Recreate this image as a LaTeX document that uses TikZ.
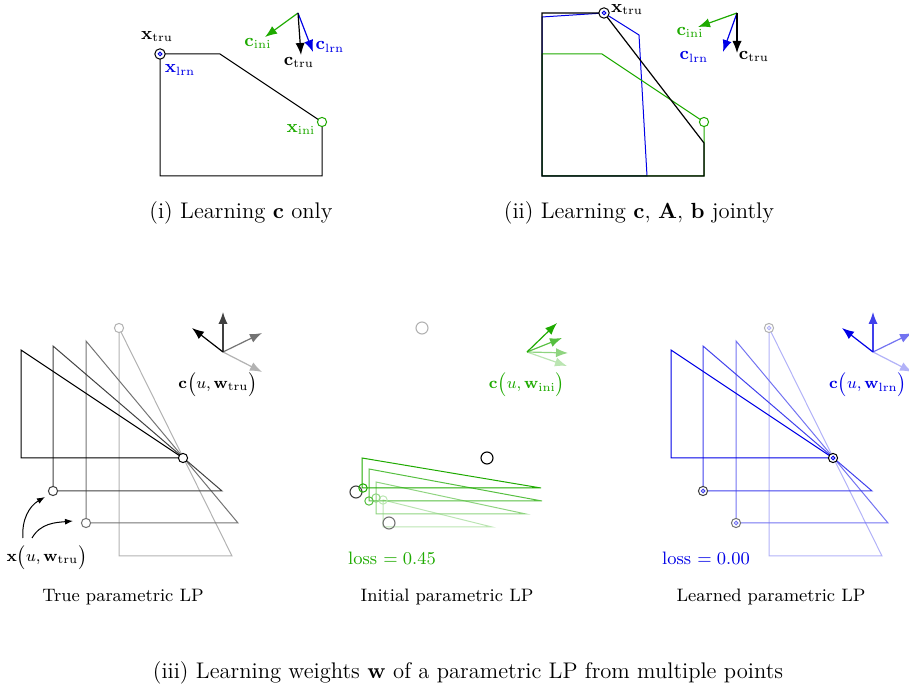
\documentclass[tikz,border=0pt]{standalone}
\usepackage{xcolor}
\usepackage{tikz}
\usetikzlibrary{positioning,arrows.meta,calc}

\definecolor{ini}{RGB}{30,170,0}
\definecolor{lrn}{RGB}{0,0,230}

\tikzset{
  vec/.style={-{Latex[length=6pt,width=4.6pt]}, line width=0.6pt},
  sol/.style={circle, draw, fill=white, inner sep=0pt, minimum size=4.6pt, line width=0.5pt},
  tru/.style={circle, draw, inner sep=0pt, minimum size=6pt, line width=0.55pt},
  dot/.style={circle, draw=lrn, inner sep=0pt, minimum size=1.8pt, line width=0.5pt},
  lbl/.style={font=\small, inner sep=1pt},
  fnl/.style={font=\footnotesize, inner sep=1pt},
  subcap/.style={font=\fontsize{11.3}{13.5}\selectfont},
}

\begin{document}
\begin{tikzpicture}[x=0.5pt, y=-0.5pt, line width=0.5pt]
    \useasboundingbox (0,0) rectangle (909,688);

    % (i) learning c only
    \draw (160,176) -- (160,54) -- (220,54) -- (322,122) -- (322,176) -- cycle;
    \node[sol, minimum size=5.2pt] (xtruA) at (160,54) {};
    \node[dot] (xlrnA) at (160,54) {};
    \node[sol, draw=ini] (xiniA) at (322,122) {};
    \node[lbl] (xtruAl) at (157,37) {$\mathbf{x}_{\mathrm{tru}}$};
    \node[lbl, text=lrn] (xlrnAl) at (180,70) {$\mathbf{x}_{\mathrm{lrn}}$};
    \node[lbl, text=ini] (xiniAl) at (301,130) {$\mathbf{x}_{\mathrm{ini}}$};

    \coordinate (oA) at (298,13);
    \coordinate (ciA) at (265,37);
    \coordinate (clA) at (313,52);
    \coordinate (ctA) at (301,55);
    \draw[vec, ini] (oA) -- (ciA);
    \draw[vec, lrn] (oA) -- (clA);
    \draw[vec] (oA) -- (ctA);
    \node[lbl, text=ini] (ciAl) at (258,44) {$\mathbf{c}_{\mathrm{ini}}$};
    \node[lbl] (ctAl) at (299,63) {$\mathbf{c}_{\mathrm{tru}}$};
    \node[lbl, text=lrn] (clAl) at (330,47) {$\mathbf{c}_{\mathrm{lrn}}$};

    \node[subcap] (capA) at (241,213) {(i) Learning $\mathbf{c}$ only};

    % (ii) learning c, A, b jointly
    \draw[lrn] (542,176) -- (542,17) -- (604,13) -- (639,35) -- (647,176) -- cycle;
    \draw[ini] (542,176) -- (542,54) -- (602,54) -- (704,122) -- (704,176) -- cycle;
    \draw[line width=0.6pt] (542,176) -- (542,13) -- (604,13) -- (704,143) -- (704,176) -- cycle;
    \node[sol, minimum size=5.2pt] (xtruB) at (604,13) {};
    \node[dot] (xlrnB) at (604,13) {};
    \node[sol, draw=ini] (xiniB) at (704,122) {};
    \node[lbl] (xtruBl) at (627,10) {$\mathbf{x}_{\mathrm{tru}}$};

    \coordinate (oB) at (737,13);
    \coordinate (ciB) at (698,27);
    \coordinate (clB) at (723,52);
    \coordinate (ctB) at (737,53);
    \draw[vec, ini] (oB) -- (ciB);
    \draw[vec, lrn] (oB) -- (clB);
    \draw[vec] (oB) -- (ctB);
    \node[lbl, text=ini] (ciBl) at (690,33) {$\mathbf{c}_{\mathrm{ini}}$};
    \node[lbl, text=lrn] (clBl) at (694,57) {$\mathbf{c}_{\mathrm{lrn}}$};
    \node[lbl] (ctBl) at (754,57) {$\mathbf{c}_{\mathrm{tru}}$};

    \node[subcap] (capB) at (639,213) {(ii) Learning $\mathbf{c}$, $\mathbf{A}$, $\mathbf{b}$ jointly};

    % (iii) true parametric LP
    \draw[black!30] (119,328) -- (119,556) -- (232,556) -- cycle;
    \draw[black!55] (86,341) -- (86,523) -- (238,523) -- cycle;
    \draw[black!75] (53,346) -- (53,491) -- (222,491) -- cycle;
    \draw[black] (21,350) -- (21,458) -- (183,458) -- cycle;
    \node[sol, draw=black!30] (tru4) at (119,328) {};
    \node[sol, draw=black!55] (tru3) at (86,523) {};
    \node[sol, draw=black!75] (tru2) at (53,491) {};
    \node[sol] (tru1) at (183,458) {};

    \coordinate (oT) at (223,352);
    \draw[vec, black!30] (oT) -- (262,372);
    \draw[vec, black!55] (oT) -- (262,333);
    \draw[vec, black!75] (oT) -- (223,312);
    \draw[vec] (oT) -- (192,328);
    \node[fnl] (cT) at (218,384) {$\mathbf{c}\big(u,\mathbf{w}_{\mathrm{tru}}\big)$};

    \node[fnl] (xT) at (47,557) {$\mathbf{x}\big(u,\mathbf{w}_{\mathrm{tru}}\big)$};
    \draw[-{Latex[length=4pt,width=3pt]}] ([xshift=-12pt,yshift=2pt]xT.north) to[out=95,in=210] ([xshift=-4pt,yshift=-3pt]tru2.center);
    \draw[-{Latex[length=4pt,width=3pt]}] ([xshift=-7.5pt,yshift=2pt]xT.north) to[out=60,in=185] ([xshift=-6.5pt,yshift=1pt]tru3.center);

    \node[font=\small] (capT) at (123,597) {True parametric LP};

    % (iii) initial parametric LP
    \draw[ini!30] (383,500) -- (383,527) -- (492,527) -- cycle;
    \draw[ini!50] (376,482) -- (376,514) -- (526,514) -- cycle;
    \draw[ini!75] (369,469) -- (369,501) -- (542,501) -- cycle;
    \draw[ini] (362,458) -- (362,488) -- (541,488) -- cycle;
    \node[tru, draw=black!30] (tgt4) at (422,328) {};
    \node[tru, draw=black!55] (tgt3) at (389,523) {};
    \node[tru, draw=black!75] (tgt2) at (356,492) {};
    \node[tru] (tgt1) at (487,458) {};
    \node[sol, draw=ini!30, fill=none, minimum size=4.2pt] (ini4) at (383,500) {};
    \node[sol, draw=ini!50, fill=none, minimum size=4.2pt] (ini3) at (376,498) {};
    \node[sol, draw=ini!75, fill=none, minimum size=4.2pt] (ini2) at (369,501) {};
    \node[sol, draw=ini, fill=none, minimum size=4.2pt] (ini1) at (363,488) {};

    \coordinate (oI) at (527,352);
    \draw[vec, ini!30] (oI) -- (567,366);
    \draw[vec, ini!50] (oI) -- (568,353);
    \draw[vec, ini!75] (oI) -- (562,338);
    \draw[vec, ini] (oI) -- (557,323);
    \node[fnl, text=ini] (cI) at (527,384) {$\mathbf{c}\big(u,\mathbf{w}_{\mathrm{ini}}\big)$};
    \node[lbl, text=ini] (lossI) at (392,558) {loss $=0.45$};

    \node[font=\small] (capI) at (447,597) {Initial parametric LP};

    % (iii) learned parametric LP
    \draw[lrn!30] (769,328) -- (769,556) -- (882,556) -- cycle;
    \draw[lrn!55] (736,341) -- (736,523) -- (888,523) -- cycle;
    \draw[lrn!75] (703,346) -- (703,491) -- (872,491) -- cycle;
    \draw[lrn] (671,350) -- (671,458) -- (833,458) -- cycle;
    \node[sol, draw=black!30] (lrn4) at (769,328) {};
    \node[dot, draw=lrn!30] at (lrn4) {};
    \node[sol, draw=black!55] (lrn3) at (736,523) {};
    \node[dot, draw=lrn!55] at (lrn3) {};
    \node[sol, draw=black!75] (lrn2) at (703,491) {};
    \node[dot, draw=lrn!75] at (lrn2) {};
    \node[sol] (lrn1) at (833,458) {};
    \node[dot] at (lrn1) {};

    \coordinate (oL) at (873,352);
    \draw[vec, lrn!30] (oL) -- (912,372);
    \draw[vec, lrn!55] (oL) -- (912,333);
    \draw[vec, lrn!75] (oL) -- (873,312);
    \draw[vec, lrn] (oL) -- (842,328);
    \node[fnl, text=lrn] (cL) at (868,384) {$\mathbf{c}\big(u,\mathbf{w}_{\mathrm{lrn}}\big)$};
    \node[lbl, text=lrn] (lossL) at (706,558) {loss $=0.00$};

    \node[font=\small] (capL) at (771,597) {Learned parametric LP};

    \node[subcap] (capC) at (468,673) {(iii) Learning weights $\mathbf{w}$ of a parametric LP from multiple points};
\end{tikzpicture}
\end{document}
